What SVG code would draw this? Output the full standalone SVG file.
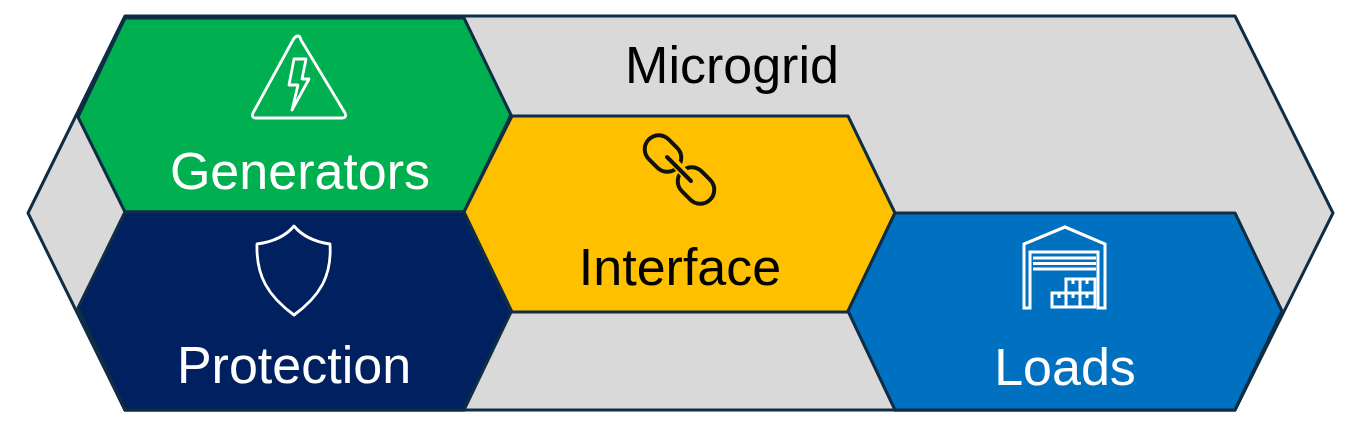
<svg xmlns="http://www.w3.org/2000/svg" width="1350" height="435" viewBox="0 0 1350 435">
<style>
.hex{stroke:#0f2d44;stroke-width:3;stroke-linejoin:round}
.t{font-family:"Liberation Sans",Arial,sans-serif;font-size:52px;text-anchor:middle}
.w{fill:#fff}.k{fill:#000}
.iw{fill:none;stroke:#fff;stroke-width:2.8;stroke-linejoin:round;stroke-linecap:round}
.ib{fill:none;stroke:#fff;stroke-width:3;stroke-linejoin:miter}
.ik{fill:none;stroke:#111;stroke-width:4;stroke-linejoin:round;stroke-linecap:round}
</style>
<rect width="1350" height="435" fill="#fff"/>
<g id="microgrid">
<polygon class="hex" fill="#d9d9d9" points="125,16 1235,16 1333,213 1235,410 125,410 28,213"/>
<text class="t k" x="732" y="83">Microgrid</text>
</g>
<g id="generators">
<polygon class="hex" fill="#00b050" points="125,18 464,18 511,115 464,212 125,212 78,117"/>
<path class="iw" d="M298,36 Q295,36 293,40 L253,113 Q251,118 256,118 L342,118 Q347,118 345,113 L301,40 Q300,36 298,36Z"/>
<path class="iw" d="M294,59 L306,59 L302,79 L309,79 L292,110 L298,85 L289,85Z"/>
<text class="t w" x="300" y="189">Generators</text>
</g>
<g id="protection">
<polygon class="hex" fill="#002060" points="125,212 464,212 511,312 464,410 125,410 78,308"/>
<path class="iw" d="M294,226 C303,237 316,242 330,244 C332,276 320,296 294,315 C268,296 256,276 257,244 C272,242 285,237 294,226Z"/>
<text class="t w" x="294" y="383">Protection</text>
</g>
<g id="interface">
<polygon class="hex" fill="#ffc000" points="512,116 848,116 895,213 848,312 512,312 464,212"/>
<rect class="ik" x="643" y="139.500" width="40" height="28" rx="14" transform="rotate(45 663 153.500)"/>
<rect class="ik" x="676" y="171.500" width="40" height="28" rx="14" transform="rotate(45 696 185.500)"/>
<path d="M673,161 L686,175" stroke="#ffc000" stroke-width="9" fill="none"/>
<path class="ik" d="M667,157 L691,181"/>
<text class="t k" x="680" y="285">Interface</text>
</g>
<g id="loads">
<polygon class="hex" fill="#0070c0" points="895,213 1235,213 1282,311 1235,410 895,410 848,311"/>
<path class="ib" d="M1024,308 L1024,244 L1065,227 L1105,244 L1105,308 L1098,308 L1098,252 L1030,252 L1030,308Z"/>
<path class="ib" d="M1033,258 H1096 M1033,263.500 H1096 M1033,269 H1096"/>
<path class="ib" d="M1052,307 V293 H1066 V279 H1095 V307Z M1066,293 V307 M1080,279 V307 M1066,293 H1095"/>
<path class="ib" d="M1059,294 V298 M1073,294 V298 M1087,294 V298 M1073,280 V284 M1087,280 V284"/>
<text class="t w" x="1065" y="385">Loads</text>
</g>
</svg>
